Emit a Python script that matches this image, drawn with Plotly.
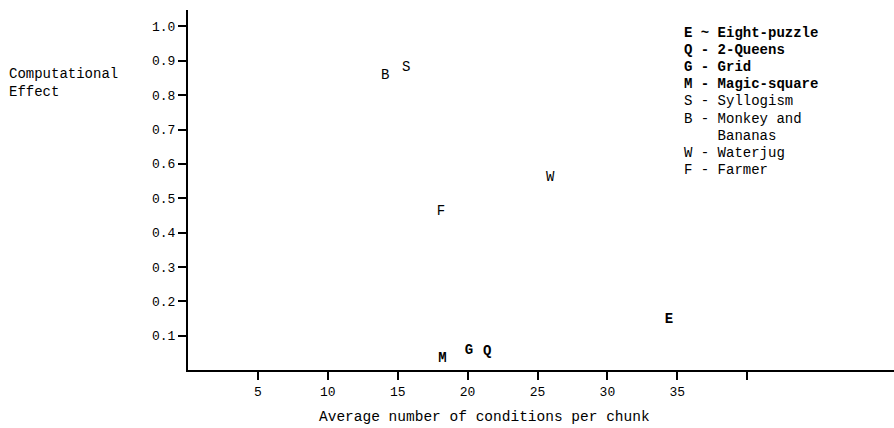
import plotly.graph_objects as go

# Data
letters = ["E", "Q", "G", "M", "S", "B", "W", "F"]
avg_conditions = [34.4, 21.4, 20.1, 18.2, 15.6, 14.1, 25.9, 18.1]
comp_effect = [0.147, 0.054, 0.057, 0.033, 0.882, 0.856, 0.56, 0.46]
bold_flags = [True, True, True, True, False, False, False, False]

legend_lines = [
    ("E ~ Eight-puzzle", True),
    ("Q - 2-Queens", True),
    ("G - Grid", True),
    ("M - Magic-square", True),
    ("S - Syllogism", False),
    ("B - Monkey and", False),
    ("    Bananas", False),
    ("W - Waterjug", False),
    ("F - Farmer", False),
]

y_ticks = [0.1, 0.2, 0.3, 0.4, 0.5, 0.6, 0.7, 0.8, 0.9, 1.0]
y_ticklabels = ["0.1", "0.2", "0.3", "0.4", "0.5", "0.6", "0.7", "0.8", "0.9", "1.0"]
x_ticks = [5, 10, 15, 20, 25, 30, 35, 40]
x_ticklabels = ["5", "10", "15", "20", "25", "30", "35", ""]

FONT = "Liberation Mono, Courier New, monospace"

labels = [f"<b>{l}</b>" if b else l for l, b in zip(letters, bold_flags)]

fig = go.Figure()
fig.add_trace(go.Scatter(
    x=avg_conditions, y=comp_effect, mode="text", text=labels,
    textposition="middle center",
    textfont=dict(family=FONT, size=14, color="black"),
    showlegend=False, hoverinfo="skip",
))

W, H = 894, 428
L, R, T, B = 188, 0, 10, 58
pw, ph = W - L - R, H - T - B

annotations = []
# legend rows
row_y0 = 33
row_dy = 17.1
for i, (txt, b) in enumerate(legend_lines):
    ypix = row_y0 + i * row_dy
    t = txt.replace(" ", "&nbsp;")
    annotations.append(dict(
        x=(682 - L) / pw, y=(H - B - ypix) / ph, xref="paper", yref="paper",
        xanchor="left", yanchor="middle", showarrow=False,
        text=f"<b>{t}</b>" if b else t,
        font=dict(family=FONT, size=14, color="black"), align="left",
    ))
# y-axis title
annotations.append(dict(
    x=(7 - L) / pw, y=(H - B - 83) / ph, xref="paper", yref="paper",
    xanchor="left", yanchor="middle", showarrow=False,
    text="Computational<br>Effect", align="left",
    font=dict(family=FONT, size=14, color="black"),
))
# x-axis title
annotations.append(dict(
    x=(484 - L) / pw, y=(H - B - 417) / ph, xref="paper", yref="paper",
    xanchor="center", yanchor="middle", showarrow=False,
    text="Average number of conditions per chunk",
    font=dict(family=FONT, size=14.5, color="black"),
))

fig.update_layout(
    width=W, height=H,
    margin=dict(l=L, r=R, t=T, b=B),
    paper_bgcolor="white", plot_bgcolor="white",
    font=dict(family=FONT, size=13, color="black"),
    annotations=annotations,
    xaxis=dict(
        range=[0, 50.5], showgrid=False, zeroline=False,
        showline=True, linecolor="black", linewidth=2,
        ticks="outside", ticklen=8, tickwidth=1.5, tickcolor="black",
        tickvals=x_ticks, ticktext=x_ticklabels,
        tickfont=dict(family=FONT, size=13),
        fixedrange=True,
    ),
    yaxis=dict(
        range=[0, 1.048], showgrid=False, zeroline=False,
        showline=True, linecolor="black", linewidth=2,
        ticks="outside", ticklen=8, tickwidth=1.5, tickcolor="black",
        tickvals=y_ticks, ticktext=y_ticklabels,
        tickfont=dict(family=FONT, size=13),
        fixedrange=True,
    ),
)

fig.write_html("out.html")
